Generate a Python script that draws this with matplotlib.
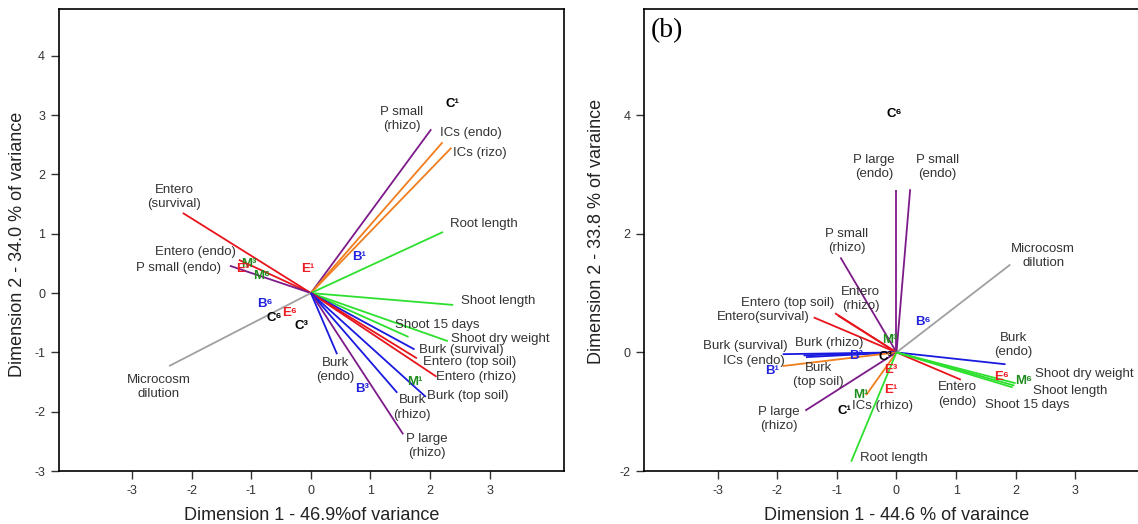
import matplotlib.pyplot as plt

plt.rcParams['font.family'] = ['Liberation Sans', 'DejaVu Sans']
plt.rcParams['axes.unicode_minus'] = False

# ---- panel (a): variable loadings ----
a_vars = ['Entero\n(survival)', 'Entero (endo)', 'P small (endo)', 'Microcosm\ndilution',
          'P small\n(rhizo)', 'ICs (endo)', 'ICs (rizo)', 'Root length', 'Shoot length',
          'Shoot 15 days', 'Shoot dry weight', 'Burk (survival)', 'Entero (top soil)',
          'Entero (rhizo)', 'Burk (top soil)', 'Burk\n(rhizo)', 'P large\n(rhizo)', 'Burk\n(endo)']
a_dim1 = [-2.15, -1.21, -1.36, -2.38, 2.02, 2.21, 2.36, 2.22, 2.39,
          1.64, 2.30, 1.74, 1.78, 2.11, 1.93, 1.45, 1.55, 0.44]
a_dim2 = [1.35, 0.56, 0.46, -1.23, 2.76, 2.54, 2.45, 1.03, -0.20,
          -0.74, -0.81, -0.95, -1.10, -1.41, -1.75, -1.68, -2.38, -1.03]

# panel (a): treatment centroids
a_groups = ['C¹', 'B¹', 'E¹', 'M³', 'M⁶', 'E³', 'B⁶', 'C⁶', 'E⁶', 'C³', 'M¹', 'B³']
a_gx = [2.37, 0.81, -0.06, -1.04, -0.82, -1.15, -0.77, -0.62, -0.36, -0.15, 1.75, 0.86]
a_gy = [3.19, 0.60, 0.41, 0.49, 0.28, 0.41, -0.19, -0.42, -0.34, -0.55, -1.50, -1.61]

# ---- panel (b): variable loadings ----
b_vars = ['P large\n(endo)', 'P small\n(endo)', 'P small\n(rhizo)', 'Microcosm\ndilution',
          'Entero (top soil)', 'Entero\n(rhizo)', 'Entero(survival)', 'Burk (survival)',
          'Burk (rhizo)', 'Burk\n(top soil)', 'ICs (endo)', 'P large\n(rhizo)', 'ICs (rhizo)',
          'Root length', 'Burk\n(endo)', 'Entero\n(endo)', 'Shoot dry weight',
          'Shoot length', 'Shoot 15 days']
b_dim1 = [0.00, 0.23, -0.94, 1.91, -1.03, -0.98, -1.39, -1.91,
          -1.56, -1.52, -1.91, -1.53, -0.51, -0.76, 1.83, 1.08, 2.00, 1.98, 1.95]
b_dim2 = [2.73, 2.75, 1.60, 1.48, 0.66, 0.62, 0.59, -0.03,
          -0.05, -0.08, -0.23, -0.98, -0.72, -1.84, -0.20, -0.46, -0.52, -0.56, -0.59]

# panel (b): treatment centroids
b_groups = ['C⁶', 'B⁶', 'M³', 'B³', 'C³', 'E³', 'E¹', 'M¹', 'C¹', 'B¹', 'E⁶', 'M⁶']
b_gx = [-0.03, 0.45, -0.11, -0.67, -0.18, -0.09, -0.09, -0.60, -0.87, -2.09, 1.77, 2.14]
b_gy = [4.02, 0.52, 0.21, -0.06, -0.08, -0.30, -0.63, -0.71, -0.99, -0.32, -0.41, -0.48]

# where each variable name is written
a_text_xy = [(-2.30, 1.62), (-1.93, 0.70), (-2.22, 0.42), (-2.56, -1.58),
             (1.52, 2.93), (2.68, 2.70), (2.83, 2.36), (2.90, 1.17), (3.15, -0.14),
             (2.13, -0.54), (3.18, -0.77), (2.53, -0.96), (2.66, -1.17),
             (2.77, -1.41), (2.64, -1.74), (1.70, -1.93), (1.94, -2.58), (0.41, -1.30)]
b_text_xy = [(-0.38, 3.13), (0.69, 3.12), (-0.84, 1.88), (2.46, 1.62),
             (-1.82, 0.84), (-0.60, 0.90), (-2.23, 0.59), (-2.54, 0.10),
             (-1.13, 0.16), (-1.31, -0.38), (-2.39, -0.15), (-1.97, -1.12), (-0.23, -0.91),
             (-0.05, -1.78), (1.96, 0.12), (1.02, -0.71), (3.15, -0.36),
             (2.92, -0.65), (2.20, -0.89)]


def var_color(name):
    if name.startswith('Entero'):
        return '#e8141c'
    if name.startswith('Burk'):
        return '#1a1ae0'
    if name.startswith('P '):
        return '#7d1a8a'
    if name.startswith('ICs'):
        return '#f07d1e'
    if name.startswith('Microcosm'):
        return '#a0a0a0'
    return '#2ee02e'


group_colors = {'C': 'black', 'B': '#2323dd', 'E': '#ee1c24', 'M': '#1f8c1f'}


def biplot(ax, names, d1, d2, text_xy, groups, gx, gy):
    for name, x, y, (tx, ty) in zip(names, d1, d2, text_xy):
        ax.plot([0, x], [0, y], color=var_color(name), lw=1.3, solid_capstyle='butt')
        ax.text(tx, ty, name, ha='center', va='center', fontsize=9.5,
                color='#333333', linespacing=1.25)
    for g, x, y in zip(groups, gx, gy):
        ax.text(x, y, g, ha='center', va='center', fontsize=9.5, fontweight='bold',
                color=group_colors[g[0]])
    ax.set_xticks([-3, -2, -1, 0, 1, 2, 3])
    ax.tick_params(direction='out', length=6, width=1, labelsize=9, colors='#333333',
                   pad=4)
    for s in ax.spines.values():
        s.set_linewidth(1.2)


fig = plt.figure(figsize=(11.38, 5.24), dpi=100)

ax1 = fig.add_axes([0.0518, 0.101, 0.4438, 0.881])
biplot(ax1, a_vars, a_dim1, a_dim2, a_text_xy, a_groups, a_gx, a_gy)
ax1.set_xlim(-4.23, 4.25)
ax1.set_ylim(-3, 4.78)
ax1.set_yticks([-3, -2, -1, 0, 1, 2, 3, 4])
ax1.set_xlabel('Dimension 1 - 46.9%of variance', fontsize=13, color='#222222')
ax1.set_ylabel('Dimension 2 - 34.0 % of variance', fontsize=13, color='#222222')
ax1.xaxis.set_label_coords(0.5, -0.078)
ax1.yaxis.set_label_coords(-0.066, 0.49)

ax2 = fig.add_axes([0.5663, 0.101, 0.444, 0.881])
biplot(ax2, b_vars, b_dim1, b_dim2, b_text_xy, b_groups, b_gx, b_gy)
ax2.set_xlim(-4.23, 4.25)
ax2.set_ylim(-2, 5.78)
ax2.set_yticks([-2, 0, 2, 4])
ax2.set_xlabel('Dimension 1 - 44.6 % of varaince', fontsize=13, color='#222222')
ax2.set_ylabel('Dimension 2 - 33.8 % of varaince', fontsize=13, color='#222222')
ax2.xaxis.set_label_coords(0.5, -0.078)
ax2.yaxis.set_label_coords(-0.078, 0.52)
ax2.text(-4.12, 5.43, '(b)', fontsize=20, family=['Liberation Serif', 'DejaVu Serif'],
         ha='left', va='center')

fig.savefig('out.png', dpi=100)
